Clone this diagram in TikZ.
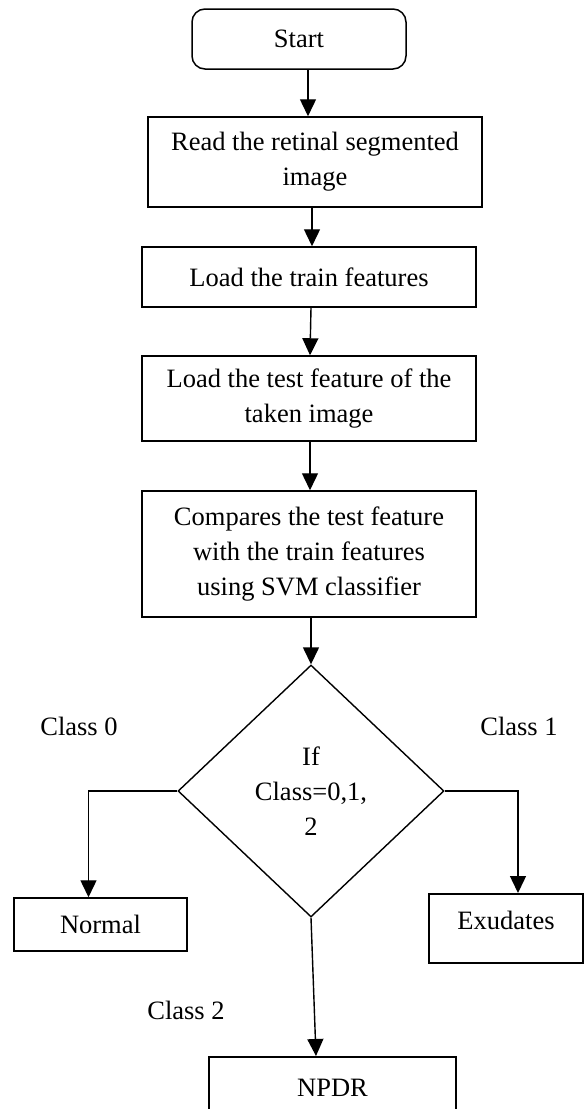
\documentclass[tikz,border=0pt]{standalone}
\usepackage{fontspec}
\setmainfont{Liberation Serif}
\usetikzlibrary{shapes.geometric,arrows.meta}

\tikzset{
  stepbox/.style={draw, line width=1.5pt, rectangle, inner sep=0pt, align=center,
    font=\fontsize{26.5}{35}\selectfont},
  startbox/.style={stepbox, rounded corners=13pt},
  decision/.style={draw, line width=1.4pt, diamond, inner sep=0pt, align=center,
    font=\fontsize{26.5}{35}\selectfont},
  lbl/.style={inner sep=0pt, font=\fontsize{26.5}{35}\selectfont},
  arr/.style={line width=1.4pt, -{Triangle[width=16pt,length=17pt]}}
}

\begin{document}
\begin{tikzpicture}[x=1pt, y=-1pt]
  \useasboundingbox (0,0) rectangle (584,1109);
  \clip (0,0) rectangle (584,1109);

  % main column
  \node[startbox, minimum width=214pt, minimum height=60pt] (start) at (299,39) {Start};
  \node[stepbox, minimum width=334pt, minimum height=90pt] (read) at (315,162)
    {Read the retinal segmented\\image};
  \node[stepbox, minimum width=334pt, minimum height=60pt] (train) at (309,277)
    {Load the train features};
  \node[stepbox, minimum width=334pt, minimum height=85pt] (test) at (309,398.5)
    {Load the test feature of the\\taken image};
  \node[stepbox, minimum width=334pt, minimum height=126pt] (svm) at (309,554)
    {Compares the test feature\\with the train features\\using SVM classifier};
  \node[decision, minimum width=266pt, minimum height=252pt] (cls) at (311,791)
    {If\\Class=0,1,\\2};

  % outcomes
  \node[stepbox, minimum width=173pt, minimum height=53pt] (normal) at (100.5,924.5) {Normal};
  \node[stepbox, anchor=north, minimum width=154pt, text height=36pt, text depth=33pt]
    (exu) at (506,893) {Exudates};
  \node[stepbox, anchor=north, minimum width=247pt, minimum height=62pt] (npdr) at (332.5,1056)
    {NPDR};

  % branch labels
  \node[lbl] (c0) at (79,726) {Class 0};
  \node[lbl] (c1) at (519,726) {Class 1};
  \node[lbl] (c2) at (186,1010) {Class 2};

  % connectors
  \draw[arr] ([xshift=9pt]start.south) -- ([xshift=-7pt]read.north);
  \draw[arr] ([xshift=-3pt]read.south) -- ([xshift=3pt]train.north);
  \draw[arr] ([xshift=2pt]train.south) -- ([xshift=1pt]test.north);
  \draw[arr] ([xshift=1pt]test.south) -- ([xshift=1pt]svm.north);
  \draw[arr] ([xshift=2pt]svm.south) -- (cls.north);
  \draw[arr] (cls.west) -| ([xshift=-12pt]normal.north);
  \draw[arr] (cls.east) -| ([xshift=12pt]exu.north);
  \draw[arr] (cls.south) -- ([xshift=-16.5pt]npdr.north);
\end{tikzpicture}
\end{document}
